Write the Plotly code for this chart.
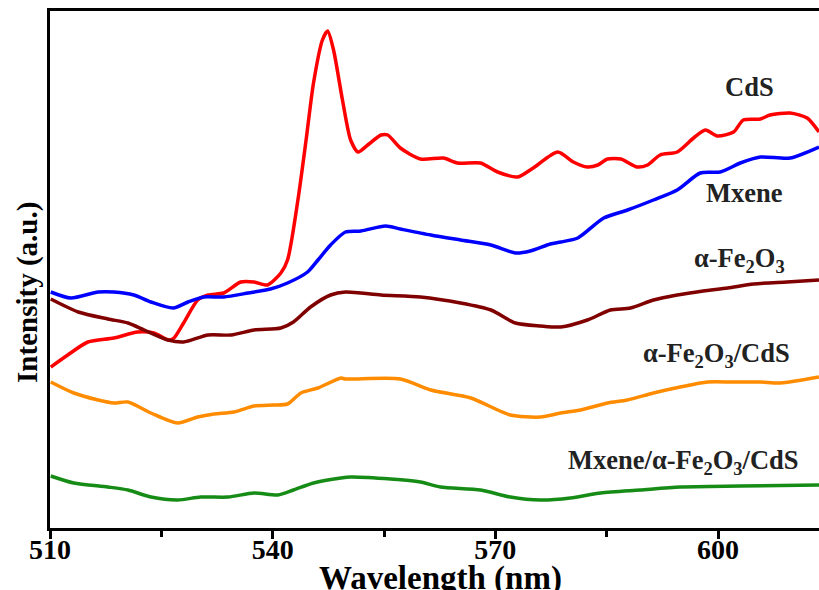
import plotly.graph_objects as go

# ---- data (wavelength nm, intensity a.u.) ----
cds_x = [510.1, 512.4, 515.1, 518.6, 521.8, 524.0, 526.0, 526.7, 528.0, 529.9, 531.3, 533.4, 535.7, 537.5,
         539.3, 541.1, 542.0, 543.4, 544.5, 545.5, 546.7, 547.4, 548.2, 549.4, 550.5, 551.5, 552.8, 554.6,
         555.5, 557.2, 559.9, 563.0, 564.9, 568.0, 570.3, 573.0, 575.1, 578.4, 580.5, 582.4, 583.8, 585.1,
         586.9, 589.1, 590.5, 592.2, 594.5, 596.7, 598.3, 599.9, 602.1, 603.4, 605.7, 607.0, 609.7, 612.0, 613.6]
cds_y = [161, 173, 186, 190, 196, 195, 188, 190, 205, 228, 233, 235, 246, 246,
         243, 255, 268, 328, 388, 445, 488, 497, 478, 428, 388, 376, 383, 393,
         393, 380, 369, 370, 365, 365, 356, 351, 360, 376, 366, 361, 363, 369,
         369, 361, 363, 373, 376, 390, 398, 392, 396, 408, 409, 413, 415, 410, 396]

mx_x = [510.1, 512.8, 516.5, 518.6, 521.3, 523.6, 526.6, 528.6, 530.7, 533.4, 536.7, 539.7, 542.0, 544.7,
        546.1, 547.8, 549.8, 551.9, 555.2, 557.2, 561.3, 565.3, 569.4, 572.7, 574.7, 577.4, 578.8, 581.1,
        584.6, 587.8, 591.3, 594.5, 597.6, 600.3, 603.0, 605.7, 609.7, 613.6]
mx_y = [236, 230, 236, 236, 233, 226, 220, 226, 231, 231, 235, 239, 245, 256,
        268, 283, 296, 297, 302, 299, 293, 288, 283, 275, 277, 284, 286, 290,
        310, 318, 328, 338, 355, 356, 365, 371, 370, 381]

fe_x = [510.1, 513.8, 517.8, 520.5, 522.7, 525.9, 528.0, 531.3, 534.4, 537.5, 541.1, 542.8, 545.1, 547.8,
        549.8, 554.6, 559.9, 565.3, 569.4, 572.7, 576.1, 578.8, 582.4, 585.5, 588.2, 591.3, 594.5, 598.0,
        601.3, 604.8, 609.3, 613.6]
fe_y = [229, 216, 209, 205, 198, 188, 186, 193, 193, 198, 200, 206, 221, 233,
        236, 233, 231, 225, 218, 205, 202, 201, 208, 218, 220, 228, 233, 237,
        240, 244, 246, 248]

fecds_x = [510.1, 513.2, 516.5, 518.6, 520.5, 523.6, 527.2, 529.9, 532.1, 534.8, 537.5, 540.1, 542.0, 543.8,
           546.1, 549.2, 549.8, 557.2, 561.3, 566.7, 572.0, 576.1, 578.8, 581.5, 585.1, 587.8, 591.3, 594.9,
           598.6, 602.1, 605.7, 608.4, 613.6]
fecds_y = [146, 135, 128, 125, 126, 115, 105, 111, 114, 116, 122, 123, 124, 135,
           140, 150, 149, 149, 138, 130, 113, 111, 115, 118, 125, 128, 135, 141,
           146, 146, 146, 145, 151]

tri_x = [510.1, 513.2, 517.8, 520.5, 523.6, 527.2, 530.3, 534.0, 537.5, 540.7, 542.8, 545.5, 549.2, 550.5,
         555.9, 559.9, 562.6, 568.0, 572.0, 576.1, 580.1, 584.2, 589.5, 594.9, 603.0, 613.6]
tri_y = [52, 45, 41, 38, 31, 28, 31, 31, 35, 33, 38, 45, 50, 51,
         49, 46, 41, 38, 31, 28, 30, 35, 38, 41, 42, 43]

series_names = ["CdS", "Mxene", "α-Fe<sub>2</sub>O<sub>3</sub>", "α-Fe<sub>2</sub>O<sub>3</sub>/CdS",
                "Mxene/α-Fe<sub>2</sub>O<sub>3</sub>/CdS"]
series_colors = ["#FF0000", "#0000FF", "#800000", "#FF8C00", "#168C16"]
label_x = [604.2, 603.5, 602.9, 599.8, 595.3]
label_y = [441, 335, 268, 173, 66]

xs = [cds_x, mx_x, fe_x, fecds_x, tri_x]
ys = [cds_y, mx_y, fe_y, fecds_y, tri_y]

tick_vals = [510, 540, 570, 600]
tick_text = ["510", "540", "570", "600"]
minor_vals = [525, 555, 585]
x_title = "Wavelength (nm)"
y_title = "Intensity (a.u.)"

FONT = "Liberation Serif"

fig = go.Figure()
for x, y, name, col in zip(xs, ys, series_names, series_colors):
    fig.add_trace(go.Scatter(x=x, y=y, mode="lines", name=name,
                             line=dict(color=col, width=3.5, shape="spline", smoothing=0.7)))

for name, lx, ly in zip(series_names, label_x, label_y):
    fig.add_annotation(x=lx, y=ly, text=name, showarrow=False,
                       font=dict(family=FONT, size=26.5, color="#222", weight="bold"))

# axis titles placed as annotations for exact positioning
fig.add_annotation(xref="x", yref="paper", x=562.6, y=-0.097, text=x_title, showarrow=False,
                   yanchor="middle", xanchor="center",
                   font=dict(family=FONT, size=33, color="black", weight="bold"))
fig.add_annotation(xref="paper", yref="y", x=-0.030, y=236, text=y_title, showarrow=False,
                   textangle=-90, xanchor="center", yanchor="middle",
                   font=dict(family=FONT, size=29, color="black", weight="bold"))

fig.update_layout(
    width=819, height=590,
    margin=dict(l=50, r=0, t=11, b=62),
    plot_bgcolor="white", paper_bgcolor="white",
    showlegend=False,
    xaxis=dict(range=[510, 613.6], tickmode="array", tickvals=tick_vals, ticktext=tick_text,
               showline=True, linecolor="black", linewidth=3, mirror=True,
               ticks="outside", ticklen=8, tickwidth=3, tickcolor="black",
               ticklabelstandoff=-14,
               minor=dict(tickvals=minor_vals, ticks="outside", ticklen=6, tickwidth=3, tickcolor="black"),
               showgrid=False, zeroline=False,
               tickfont=dict(family=FONT, size=28, color="black", weight="bold"),
               automargin=False),
    yaxis=dict(range=[0, 517], showline=True, linecolor="black", linewidth=3,
               showticklabels=False, ticks="", showgrid=False, zeroline=False,
               automargin=False),
)

fig.write_html("out.html", config={"displayModeBar": False},
               post_script="document.body.style.margin='0';document.body.style.overflow='hidden';")
